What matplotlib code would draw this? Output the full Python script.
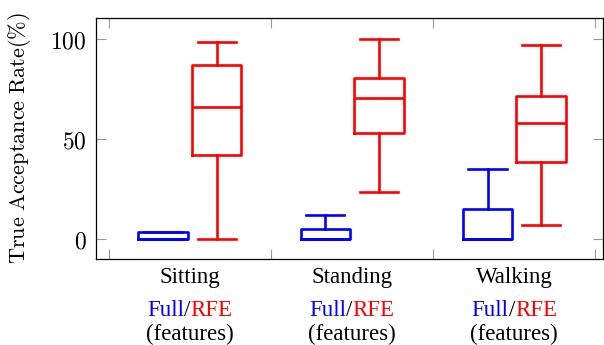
import matplotlib
matplotlib.use('Agg')
import matplotlib.pyplot as plt

plt.rcParams['mathtext.fontset'] = 'cm'

# data (box stats per activity)
categories = ['Sitting', 'Standing', 'Walking']

full_low = [0, 0, 0]
full_q1 = [0, 0, 0]
full_med = [0, 0, 0]
full_q3 = [3.5, 5, 15]
full_high = [3.5, 12, 35]

rfe_low = [0, 23.3, 6.7]
rfe_q1 = [41.8, 52.7, 38.2]
rfe_med = [66, 70.2, 57.7]
rfe_q3 = [86.8, 80.2, 71.5]
rfe_high = [98.5, 100, 97]

yticks = [0, 50, 100]


def make_stats(low, q1, med, q3, high):
    return [dict(whislo=a, q1=b, med=c, q3=d, whishi=e, fliers=[])
            for a, b, c, d, e in zip(low, q1, med, q3, high)]


fig = plt.figure(figsize=(6.04, 3.45), dpi=100)
ax = fig.add_axes([95.5 / 604, 1 - 258.5 / 345, (603 - 95.5) / 604, (258.5 - 18) / 345])

pos = [i + 1 for i in range(len(categories))]
off = 0.165
width = 0.305
capw = 0.235

for stats, color, sign in [(make_stats(full_low, full_q1, full_med, full_q3, full_high), 'blue', -1),
                           (make_stats(rfe_low, rfe_q1, rfe_med, rfe_q3, rfe_high), 'red', 1)]:
    lp = dict(color=color, linewidth=1.9)
    ax.bxp(stats, positions=[p + sign * off for p in pos], widths=width,
           capwidths=capw, showfliers=False, manage_ticks=False,
           boxprops=lp, whiskerprops=lp, capprops=lp, medianprops=lp)

ax.set_xlim(0.418, 3.547)
ax.set_ylim(-10, 110.3)
ax.set_xticks([0.5, 1.5, 2.5, 3.5])
ax.set_xticklabels([])
ax.set_yticks(yticks)
ax.set_yticklabels([r'$%d$' % v for v in yticks], fontsize=17)
ax.tick_params(direction='in', length=7.2, width=0.8, color='#9a9a9a',
               top=True, right=True, pad=6.5)
for s in ax.spines.values():
    s.set_linewidth(0.9)

ax.set_ylabel(r'$\mathrm{True\ Acceptance\ Rate(\%)}$', fontsize=16, labelpad=12)

serif = 'Liberation Serif'
fs = 16.5
xcoords = ('data', 'axes fraction')
for p, cat in zip(pos, categories):
    ax.annotate(cat, xy=(p, 0), xycoords=xcoords, xytext=(0, -17.9),
                textcoords='offset points', ha='center', va='baseline',
                family=serif, fontsize=fs)
    ax.annotate('(features)', xy=(p, 0), xycoords=xcoords, xytext=(0, -58.6),
                textcoords='offset points', ha='center', va='baseline',
                family=serif, fontsize=fs)

# multi-coloured "Full/RFE" line: place parts, then centre them
parts = [('Full', 'blue'), ('/', 'black'), ('RFE', 'red')]
groups = []
for p in pos:
    texts = []
    for word, color in parts:
        t = ax.annotate(word, xy=(p, 0), xycoords=xcoords, xytext=(0, -41.2),
                        textcoords='offset points', ha='left', va='baseline',
                        family=serif, fontsize=fs, color=color)
        texts.append(t)
    groups.append(texts)

fig.canvas.draw()
renderer = fig.canvas.get_renderer()
for texts in groups:
    widths = [t.get_window_extent(renderer).width * 72 / fig.dpi for t in texts]
    x = -sum(widths) / 2
    for t, w in zip(texts, widths):
        t.set_position((x, -41.2))
        x += w

fig.savefig('out.png', dpi=100)
